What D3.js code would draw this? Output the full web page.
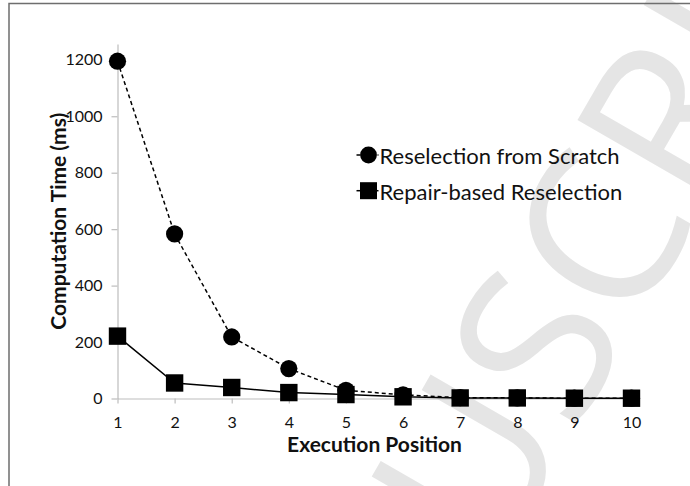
<!DOCTYPE html>
<html>
<head>
<meta charset="utf-8">
<script src="https://cdn.jsdelivr.net/npm/d3@7"></script>
<style>
  html, body { margin: 0; padding: 0; background: #fff; }
  svg { display: block; }
  text { font-family: Lato, "Open Sans", sans-serif; fill: #111; }
</style>
</head>
<body>
<div id="chart"></div>
<script>
/* Computation time per execution position, two reselection strategies */

const positions = [1, 2, 3, 4, 5, 6, 7, 8, 9, 10];
const scratchMs = [1195, 583, 218, 106, 29, 13, 3, 2, 1, 1];
const repairMs  = [221, 55, 39, 21, 14, 6, 2, 2, 1, 1];
const yTicks    = [0, 200, 400, 600, 800, 1000, 1200];
const seriesNames = ['Reselection from Scratch', 'Repair-based Reselection'];

const W = 690, H = 486;
const plotLeft = 117.5, plotRight = 631.5, plotTop = 44, plotBottom = 398.5;

const svg = d3.select('#chart').append('svg')
  .attr('width', W)
  .attr('height', H);

svg.append('rect').attr('width', W).attr('height', H).attr('fill', '#fff');

// faint "accepted manuscript" watermark behind the chart
svg.append('text')
  .attr('transform', 'translate(495,570) rotate(-60)')
  .style('font-family', '"Open Sans", sans-serif')
  .style('font-size', '215px')
  .style('fill', '#e5e5e5')
  .text('USCRIPT');

// frame
svg.append('path')
  .attr('d', `M9,${H} V3.5 H${W}`)
  .attr('fill', 'none')
  .attr('stroke', '#6e6e6e')
  .attr('stroke-width', 1.5);

const x = d3.scaleLinear().domain([1, 10]).range([plotLeft, plotRight]);
const y = d3.scaleLinear().domain([0, 1256]).range([plotBottom, plotTop]);

// axes
const yAxis = svg.append('g')
  .attr('transform', `translate(${plotLeft},0)`)
  .call(d3.axisLeft(y).tickValues(yTicks).tickFormat(d3.format('d'))
    .tickSizeInner(6).tickSizeOuter(0).tickPadding(9));

const xAxis = svg.append('g')
  .attr('transform', `translate(0,${plotBottom})`)
  .call(d3.axisBottom(x).tickValues(positions).tickFormat(d3.format('d'))
    .tickSizeInner(5).tickSizeOuter(0).tickPadding(13));

[yAxis, xAxis].forEach(g => {
  g.selectAll('path, line').attr('stroke', '#bdbdbd').attr('stroke-width', 1.2);
  g.selectAll('text')
    .style('font-family', 'Lato, sans-serif')
    .style('font-size', '16px')
    .style('fill', '#111');
});

// axis titles
svg.append('text')
  .attr('x', (plotLeft + plotRight) / 2)
  .attr('y', 452)
  .attr('text-anchor', 'middle')
  .style('font-size', '21px')
  .style('font-weight', 'bold')
  .text('Execution Position');

svg.append('text')
  .attr('transform', `translate(66,${(plotTop + plotBottom) / 2}) rotate(-90)`)
  .attr('text-anchor', 'middle')
  .style('font-size', '21px')
  .style('font-weight', 'bold')
  .text('Computation Time (ms)');

// series
const line = d3.line().x((d, i) => x(positions[i])).y(d => y(d));

svg.append('path')
  .datum(scratchMs)
  .attr('d', line)
  .attr('fill', 'none')
  .attr('stroke', '#000')
  .attr('stroke-width', 1.5)
  .attr('stroke-dasharray', '4,3');

svg.append('g')
  .selectAll('circle')
  .data(scratchMs)
  .join('circle')
  .attr('cx', (d, i) => x(positions[i]))
  .attr('cy', d => y(d))
  .attr('r', 8.6)
  .attr('fill', '#000');

svg.append('path')
  .datum(repairMs)
  .attr('d', line)
  .attr('fill', 'none')
  .attr('stroke', '#000')
  .attr('stroke-width', 1.5);

const sq = 17.4;
svg.append('g')
  .selectAll('rect')
  .data(repairMs)
  .join('rect')
  .attr('x', (d, i) => x(positions[i]) - sq / 2)
  .attr('y', d => y(d) - sq / 2)
  .attr('width', sq)
  .attr('height', sq)
  .attr('fill', '#000');

// legend
const legend = svg.append('g').attr('transform', 'translate(368.5,155)');
seriesNames.forEach((name, i) => {
  const row = legend.append('g').attr('transform', `translate(0,${i * 35.7})`);
  row.append('line')
    .attr('x1', -12).attr('x2', 10)
    .attr('stroke', '#000').attr('stroke-width', 1.5)
    .attr('stroke-dasharray', i === 0 ? '4,3' : null);
  if (i === 0) {
    row.append('circle').attr('r', 8.4).attr('fill', '#000');
  } else {
    row.append('rect')
      .attr('x', -8.5).attr('y', -8.5)
      .attr('width', 17).attr('height', 17)
      .attr('fill', '#000');
  }
  row.append('text')
    .attr('x', 11)
    .attr('y', 9)
    .style('font-size', '22px')
    .text(name);
});
</script>
</body>
</html>
